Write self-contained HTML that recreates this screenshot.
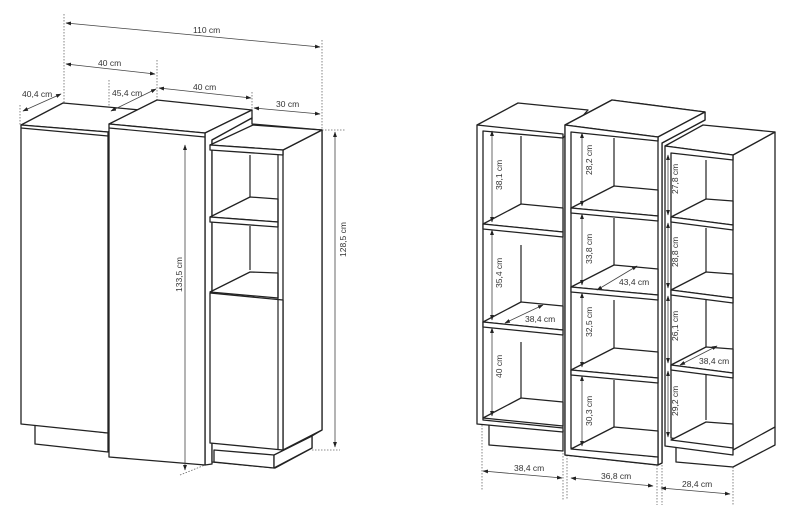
<!DOCTYPE html>
<html><head><meta charset="utf-8"><style>
html,body{margin:0;padding:0;background:#fff;}
svg{display:block;}
text{font-family:"Liberation Sans",sans-serif;font-size:8.5px;fill:#333;}
.o{fill:#fff;stroke:#222;stroke-width:1.3;stroke-linejoin:round;}
.l{fill:none;stroke:#222;stroke-width:1.2;}
.d{fill:none;stroke:#444;stroke-width:0.8;marker-start:url(#a);marker-end:url(#a);}
.dt{fill:none;stroke:#666;stroke-width:0.8;stroke-dasharray:1.5 1.5;}
</style></head><body>
<svg width="808" height="513" viewBox="0 0 808 513" xmlns="http://www.w3.org/2000/svg">
<defs>
<marker id="a" viewBox="0 0 10 10" refX="9" refY="5" markerWidth="7" markerHeight="7" orient="auto-start-reverse"><path d="M0,1.5 L10,5 L0,8.5 Z" fill="#222"/></marker>
</defs>

<path class="dt" d="M64,14 V123 M157,60 V100 M109,80 V124 M20,105 V125 M252,92 V110 M322,40 V130 M322,130 H345 M312,450 H340 M180,475 L205,465"/>
<path class="o" d="M35,424 V444 L108,452 V433 Z"/>
<path class="o" d="M21,125 L63,103 L140,110 L108,132 Z"/>
<path class="o" d="M21,125 L108,132 V433 L21,424 Z"/>
<path class="l" d="M21,128 L108,136"/>
<path class="o" d="M109,124 L157,100 L252,110 L205,133 Z"/>
<path class="o" d="M205,133 L252,110 V118 L212,140 V464 L205,465 Z"/>
<path class="o" d="M109,124 L205,133 V465 L109,457 Z"/>
<path class="l" d="M109,128 L205,137"/>
<path class="o" d="M212,140 L252,118 V124 L322,130 V430 L312,436 V448 L275,468 L212,462 Z"/>
<path class="o" d="M214,450 L214,462 L274,468 L274,455 Z"/>
<path class="o" d="M274,455 L312,436 V448 L274,468 Z"/>
<path class="o" d="M283,150 L322,130 V430 L283,450 Z"/>
<path class="o" d="M210,145 L253,125 L322,130 L283,150 Z"/>
<path class="o" d="M210,145 L283,150 V155 L210,150 Z"/>
<path class="l" d="M250,155 V203 M250,226 V270"/>
<path class="o" d="M210,217 L250,197 L278,199 L278,222 L210,217 Z"/>
<path class="o" d="M210,217 L278,222 V227 L210,222 Z"/>
<path class="o" d="M210,292 L250,272 L278,273 L278,298 Z"/>
<path class="o" d="M210,293 L283,300 V450 L210,443 Z"/>
<path class="l" d="M278,155 V450"/>
<path class="d" d="M66,23 L320,47"/>
<text x="193" y="33">110 cm</text>
<path class="d" d="M66,64 L155,74"/>
<text x="98" y="66">40 cm</text>
<path class="d" d="M23,111 L61,94"/>
<text x="22" y="97">40,4 cm</text>
<path class="d" d="M111,111 L156,89"/>
<text x="112" y="96">45,4 cm</text>
<path class="d" d="M159,88 L251,98"/>
<text x="193" y="90">40 cm</text>
<path class="d" d="M254,108 L320,114"/>
<text x="276" y="107">30 cm</text>
<path class="d" d="M185,145 V470"/>
<text transform="translate(182,292) rotate(-90)">133,5 cm</text>
<path class="d" d="M335,132 V447"/>
<text transform="translate(346,257) rotate(-90)">128,5 cm</text>

<path class="dt" d="M482,425 V490 M563,450 V500 M567,455 V500 M657,465 V505 M662,465 V505 M733,455 V505"/>
<path class="o" d="M489,424 V445 L563,451 V430 Z"/>
<path class="o" d="M477,125 L518,103 L588,110 L563,138 Z"/>
<path class="o" d="M477,125 L563,134 V138 L483,131 V420 L563,428 V432 L477,424 Z"/>
<path class="l" d="M521,136 V205 M521,245 V302 M521,342 V400 M563,138 V428"/>
<g transform="translate(483,224)"><path class="o" d="M0,0 L38,-20 L80,-16 L80,8 Z"/><path class="o" d="M0,0 L80,8 V13 L0,5 Z"/></g>
<g transform="translate(483,322)"><path class="o" d="M0,0 L38,-20 L80,-16 L80,8 Z"/><path class="o" d="M0,0 L80,8 V13 L0,5 Z"/></g>
<g transform="translate(483,418)"><path class="o" d="M0,0 L38,-20 L80,-16 L80,8 Z"/></g>
<path class="o" d="M565,125 L612,100 L705,112 L705,120 L662,143 V463 L657,465 L565,455 Z"/>
<path class="o" d="M565,125 L612,100 L705,112 L658,137 Z"/>
<path class="o" d="M658,137 L705,112 V120 L662,143 V463 L658,465 Z"/>
<path class="o" d="M565,125 L658,137 V141 L571,132 V448 L658,457 V465 L565,455 Z"/>
<path class="l" d="M614,138 V190 M614,218 V270 M614,300 V350 M614,380 V430"/>
<g transform="translate(571,208)"><path class="o" d="M0,0 L43,-22 L87,-18 L87,8 Z"/><path class="o" d="M0,0 L87,8 V13 L0,5 Z"/></g>
<g transform="translate(571,287)"><path class="o" d="M0,0 L43,-22 L87,-18 L87,8 Z"/><path class="o" d="M0,0 L87,8 V13 L0,5 Z"/></g>
<g transform="translate(571,370)"><path class="o" d="M0,0 L43,-22 L87,-18 L87,8 Z"/><path class="o" d="M0,0 L87,8 V13 L0,5 Z"/></g>
<g transform="translate(571,449)"><path class="o" d="M0,0 L43,-22 L87,-18 L87,8 Z"/></g>
<path class="o" d="M676,443 V462 L733,467 L775,445 V427 Z"/>
<path class="o" d="M733,155 L775,132 V427 L733,450 Z"/>
<path class="o" d="M665,146 L703,125 L775,132 L733,155 Z"/>
<path class="o" d="M665,146 L733,155 V160 L671,153 V438 L733,447 V455 L665,446 Z"/>
<path class="l" d="M706,160 V200 M706,228 V272 M706,300 V348 M706,375 V420"/>
<g transform="translate(671,217)"><path class="o" d="M0,0 L35,-18 L62,-16 L62,8 Z"/><path class="o" d="M0,0 L62,8 V13 L0,5 Z"/></g>
<g transform="translate(671,290)"><path class="o" d="M0,0 L35,-18 L62,-16 L62,8 Z"/><path class="o" d="M0,0 L62,8 V13 L0,5 Z"/></g>
<g transform="translate(671,365)"><path class="o" d="M0,0 L35,-18 L62,-16 L62,8 Z"/><path class="o" d="M0,0 L62,8 V13 L0,5 Z"/></g>
<g transform="translate(671,440)"><path class="o" d="M0,0 L35,-18 L62,-16 L62,8 Z"/></g>
<path class="d" d="M492,131 V222"/><text transform="translate(502,190) rotate(-90)">38,1 cm</text>
<path class="d" d="M492,230 V320"/><text transform="translate(502,288) rotate(-90)">35,4 cm</text>
<path class="d" d="M492,328 V416"/><text transform="translate(502,378) rotate(-90)">40 cm</text>
<path class="d" d="M505,323 L543,305"/><text x="525" y="322">38,4 cm</text>
<path class="d" d="M582,133 V206"/><text transform="translate(592,175) rotate(-90)">28,2 cm</text>
<path class="d" d="M582,214 V285"/><text transform="translate(592,264) rotate(-90)">33,8 cm</text>
<path class="d" d="M597,290 L637,266"/><text x="619" y="285">43,4 cm</text>
<path class="d" d="M582,293 V367"/><text transform="translate(592,337) rotate(-90)">32,5 cm</text>
<path class="d" d="M582,376 V446"/><text transform="translate(592,426) rotate(-90)">30,3 cm</text>
<path class="d" d="M668,155 V215"/><text transform="translate(678,194) rotate(-90)">27,8 cm</text>
<path class="d" d="M668,223 V288"/><text transform="translate(678,267) rotate(-90)">28,8 cm</text>
<path class="d" d="M668,296 V363"/><text transform="translate(678,341) rotate(-90)">26,1 cm</text>
<path class="d" d="M680,365 L717,346"/><text x="699" y="364">38,4 cm</text>
<path class="d" d="M668,371 V437"/><text transform="translate(678,416) rotate(-90)">29,2 cm</text>
<path class="d" d="M483,471 L562,478"/><text x="514" y="471">38,4 cm</text>
<path class="d" d="M571,478 L653,486"/><text x="601" y="479">36,8 cm</text>
<path class="d" d="M661,488 L730,494"/><text x="682" y="487">28,4 cm</text>
</svg>
</body></html>
